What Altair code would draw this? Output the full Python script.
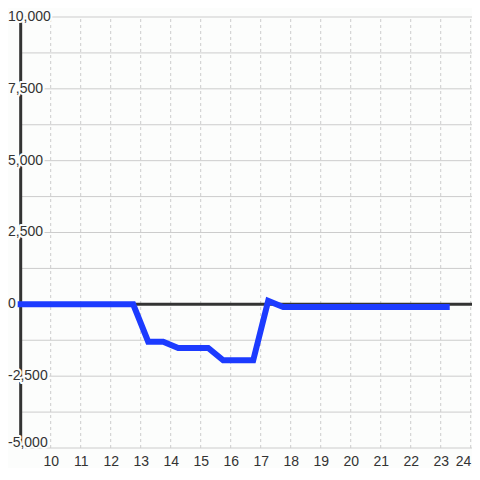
import altair as alt
import pandas as pd

# ---- data ----
hours = [8.9, 9.75, 10.75, 11.75, 12.75, 13.25, 13.75, 14.25, 14.75, 15.25,
         15.75, 16.25, 16.75, 17.25, 17.75, 18.75, 19.75, 20.75, 21.75, 22.75, 23.3]
values = [0, 0, 0, 0, 0, -1300, -1300, -1520, -1520, -1520,
          -1950, -1950, -1950, 120, -90, -90, -90, -90, -90, -90, -90]

x_ticks = [10, 11, 12, 13, 14, 15, 16, 17, 18, 19, 20, 21, 22, 23, 24]
y_grid = [-5000, -3750, -2500, -1250, 0, 1250, 2500, 3750, 5000, 6250, 7500, 8750, 10000]
y_tick_values = [10000, 7500, 5000, 2500, 0, -2500]
y_tick_labels = ["10,000", "7,500", "5,000", "2,500", "0", "-2,500"]
y_bottom_value = [-5000]
y_bottom_label = ["-5,000"]

X_AXIS_AT = 9.0
X_MIN, X_MAX = 8.577, 24.043
Y_MIN, Y_TOP, Y_MAX = -5000, 10000, 10313

BG = "#fcfdfc"
FONT = "Liberation Sans"

xs = alt.Scale(domain=[X_MIN, X_MAX], nice=False, zero=False)
ys = alt.Scale(domain=[Y_MIN, Y_MAX], nice=False, zero=False)

line_df = pd.DataFrame({"h": hours, "v": values})
hgrid_df = pd.DataFrame({"v": y_grid, "x0": X_AXIS_AT, "x1": X_MAX})
vgrid_df = pd.DataFrame({"h": x_ticks, "lo": Y_MIN, "hi": Y_TOP})
vaxis_df = pd.DataFrame({"h": [X_AXIS_AT], "lo": [Y_MIN], "hi": [Y_TOP]})
haxis_df = pd.DataFrame({"v": [0], "x0": [X_AXIS_AT], "x1": [X_MAX]})
lab_df = pd.DataFrame({"v": y_tick_values, "label": y_tick_labels})
lab_bottom_df = pd.DataFrame({"v": y_bottom_value, "label": y_bottom_label})

x_axis = alt.Axis(values=x_ticks, grid=False, domain=False, ticks=False, tickSize=0,
                  labelFontSize=14, labelFont=FONT, labelColor="#333333",
                  labelPadding=6, labelFlush=3, labelOverlap=False, title=None)


def X(field):
    return alt.X(field, scale=xs, axis=x_axis)


def Y(field):
    return alt.Y(field, scale=ys, axis=None)


hgrid = alt.Chart(hgrid_df).mark_rule(color="#cccccc", strokeWidth=1).encode(
    x=X("x0:Q"), x2="x1:Q", y=Y("v:Q"))

vgrid = alt.Chart(vgrid_df).mark_rule(color="#cccccc", strokeWidth=1, strokeDash=[3, 3]).encode(
    x=X("h:Q"), y=Y("lo:Q"), y2="hi:Q")

vaxis = alt.Chart(vaxis_df).mark_rule(color="#333333", strokeWidth=3).encode(
    x=X("h:Q"), y=Y("lo:Q"), y2="hi:Q")

haxis = alt.Chart(haxis_df).mark_rule(color="#333333", strokeWidth=3).encode(
    x=X("x0:Q"), x2="x1:Q", y=Y("v:Q"))


def labels(df, baseline, dy):
    enc = dict(x=alt.value(0), y=Y("v:Q"), text="label:N")
    halo = alt.Chart(df).mark_text(align="left", baseline=baseline, dy=dy, fontSize=14, font=FONT,
                                   fill=BG, stroke=BG, strokeWidth=4, strokeJoin="round").encode(**enc)
    txt = alt.Chart(df).mark_text(align="left", baseline=baseline, dy=dy, fontSize=14, font=FONT,
                                  color="#333333").encode(**enc)
    return [halo, txt]


line = alt.Chart(line_df).mark_line(color="#1c3bff", strokeWidth=6, strokeCap="butt").encode(
    x=X("h:Q"), y=Y("v:Q"))

chart = alt.layer(
    hgrid, vgrid, vaxis, haxis,
    *labels(lab_df, "middle", 0),
    *labels(lab_bottom_df, "alphabetic", -1),
    line,
).properties(
    width=464, height=440, background=BG,
    padding={"left": 0, "top": 0, "right": 0, "bottom": 20},
    autosize=alt.AutoSizeParams(type="none"),
).configure_view(stroke=None)

chart.save("out.html", embed_options={"renderer": "svg", "actions": False})
